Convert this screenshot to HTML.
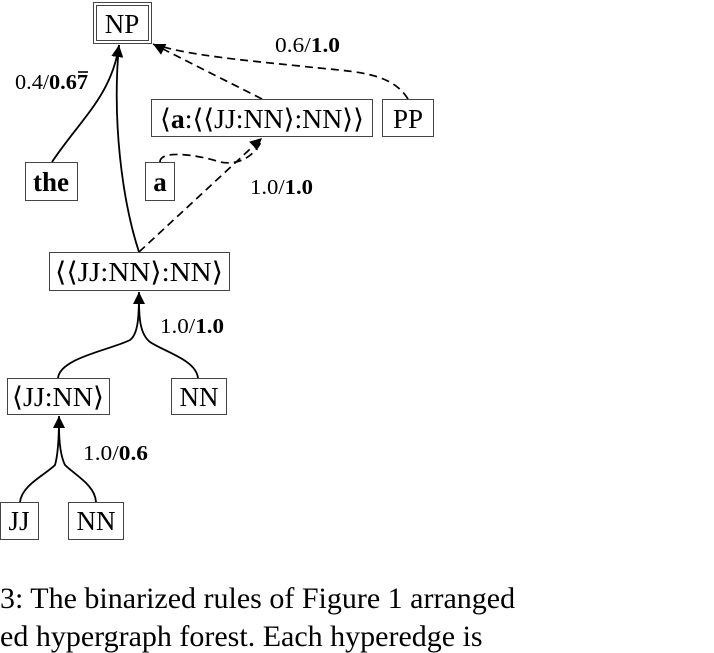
<!DOCTYPE html>
<html><head><meta charset="utf-8"><style>
body{margin:0;background:#fff;width:714px;height:632px;overflow:hidden;position:relative;font-family:"Liberation Serif",serif}
svg{position:absolute;left:0;top:0}
.b{font-family:"Liberation Serif",serif;font-size:27px;fill:#000}
.l{font-family:"Liberation Serif",serif;font-size:21px;fill:#000}
.cap{position:absolute;left:0;font-size:30px;white-space:nowrap;color:#000;line-height:1}
</style></head><body>
<svg width="714" height="632">
<defs><marker id="ah" markerWidth="12" markerHeight="14" refX="12" refY="6" orient="auto" markerUnits="userSpaceOnUse"><path d="M0,0 L12,6 L0,12 z" fill="#000"/></marker></defs>
<g fill="none" stroke="#000" stroke-width="1.8">
<path d="M52,162 C80,120 112,95 119,45" marker-end="url(#ah)"/>
<path d="M139,252 C122,200 112,120 119,45"/>
<path d="M58,378 C60,358 110,350 130,340 C138,334 139,318 139,292" marker-end="url(#ah)"/>
<path d="M198,378 C196,360 165,352 150,342 C140,334 139,318 139,300"/>
<path d="M20,502 C22,485 45,475 55,465 C58,455 59,440 59,416" marker-end="url(#ah)"/>
<path d="M96,502 C95,485 75,475 65,465 C60,455 59,440 59,425"/>
</g>
<g fill="none" stroke="#000" stroke-width="1.7" stroke-dasharray="8,5">
<path d="M139,252 L262,138" marker-end="url(#ah)"/>
<path d="M160,162 C160,150 195,154 220,162 C240,166 255,155 262,140"/>
<path d="M262,99 L153,44" marker-end="url(#ah)"/>
<path d="M408,99 C390,70 350,72 300,66 C240,60 190,55 160,46"/>
</g>
<g fill="#fff" stroke="#444" stroke-width="1">
<rect x="93.5" y="2.5" width="58" height="41"/>
<rect x="96.5" y="5.5" width="52" height="35"/>
<rect x="151.5" y="99.5" width="221" height="37"/>
<rect x="382.5" y="99.5" width="51" height="37"/>
<rect x="25.5" y="162.5" width="52" height="38"/>
<rect x="145.5" y="162.5" width="29" height="38"/>
<rect x="49.5" y="252.5" width="180" height="38"/>
<rect x="7.5" y="378.5" width="102" height="36"/>
<rect x="171.5" y="378.5" width="55" height="36"/>
<rect x="0.5" y="502.5" width="38" height="37"/>
<rect x="68.5" y="502.5" width="55" height="37"/>
</g>
<text class="b" x="122" y="33" text-anchor="middle">NP</text>
<text class="b" x="262" y="128" text-anchor="middle" textLength="204" lengthAdjust="spacingAndGlyphs">⟨<tspan font-weight="bold">a</tspan>:⟨⟨JJ:NN⟩:NN⟩⟩</text>
<text class="b" x="408" y="128" text-anchor="middle">PP</text>
<text class="b" x="51" y="191" text-anchor="middle" font-weight="bold">the</text>
<text class="b" x="160" y="191" text-anchor="middle" font-weight="bold">a</text>
<text class="b" x="139" y="281" text-anchor="middle" textLength="168" lengthAdjust="spacingAndGlyphs">⟨⟨JJ:NN⟩:NN⟩</text>
<text class="b" x="58" y="406" text-anchor="middle" textLength="92" lengthAdjust="spacingAndGlyphs">⟨JJ:NN⟩</text>
<text class="b" x="199" y="406" text-anchor="middle">NN</text>
<text class="b" x="19" y="530" text-anchor="middle">JJ</text>
<text class="b" x="96" y="530" text-anchor="middle">NN</text>
<text class="l" x="15" y="89" textLength="73" lengthAdjust="spacingAndGlyphs">0.4/<tspan font-weight="bold">0.67</tspan></text>
<line x1="78" y1="72" x2="88" y2="72" stroke="#000" stroke-width="1.6"/>
<text class="l" x="275" y="52" textLength="65" lengthAdjust="spacingAndGlyphs">0.6/<tspan font-weight="bold">1.0</tspan></text>
<text class="l" x="250" y="194" textLength="63" lengthAdjust="spacingAndGlyphs">1.0/<tspan font-weight="bold">1.0</tspan></text>
<text class="l" x="160" y="333" textLength="64" lengthAdjust="spacingAndGlyphs">1.0/<tspan font-weight="bold">1.0</tspan></text>
<text class="l" x="83" y="460" textLength="65" lengthAdjust="spacingAndGlyphs">1.0/<tspan font-weight="bold">0.6</tspan></text>
</svg>
<div class="cap" style="top:584px">3: The binarized rules of Figure 1 arranged</div>
<div class="cap" style="top:622px">ed hypergraph forest. Each hyperedge is</div>
</body></html>
